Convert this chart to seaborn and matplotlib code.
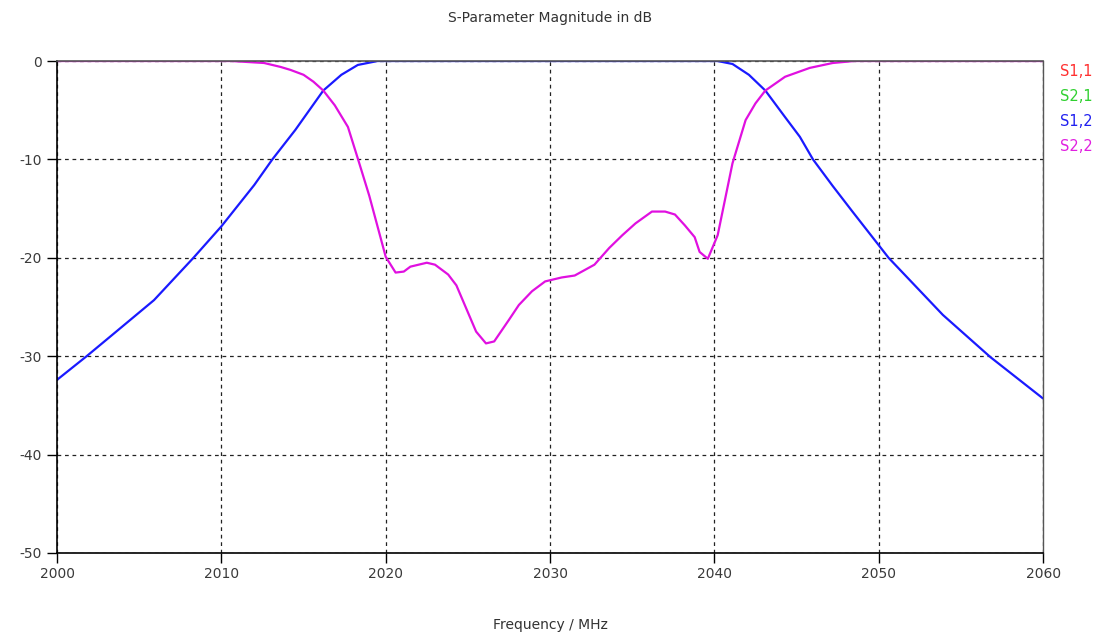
import pandas as pd
import matplotlib.pyplot as plt
import seaborn as sns

# S1,2 (transmission)
freq_s12 = [2000, 2001.8, 2003.6, 2005.9, 2008.3, 2010.0, 2012.0, 2013.1, 2014.5,
            2016.2, 2017.3, 2018.3, 2019.5, 2040.2, 2041.1, 2042.1, 2043.1, 2044.3,
            2045.2, 2046.0, 2047.2, 2048.4, 2050.6, 2053.9, 2056.8, 2060]
s12_db = [-32.4, -30.0, -27.5, -24.3, -20.0, -16.8, -12.6, -10.0, -7.0,
          -3.0, -1.4, -0.4, 0.0, 0.0, -0.3, -1.4, -3.0, -5.7,
          -7.7, -10.0, -12.7, -15.3, -20.0, -25.8, -30.1, -34.3]

# S2,2 (reflection)
freq_s22 = [2000, 2010.6, 2012.6, 2013.6, 2014.2, 2015.0, 2015.6, 2016.2, 2016.9,
            2017.7, 2018.3, 2019.0, 2020.0, 2020.6, 2021.1, 2021.5, 2022.5, 2023.0,
            2023.8, 2024.3, 2025.5, 2026.1, 2026.6, 2027.5, 2028.1, 2028.9, 2029.7,
            2030.7, 2031.5, 2032.7, 2033.6, 2034.4, 2035.2, 2036.2, 2037.0, 2037.6,
            2038.2, 2038.8, 2039.1, 2039.6, 2040.2, 2041.1, 2041.9, 2042.5, 2043.1,
            2044.3, 2045.8, 2047.2, 2048.5, 2060]
s22_db = [0.0, 0.0, -0.2, -0.6, -0.9, -1.4, -2.1, -3.0, -4.5,
          -6.7, -9.9, -13.7, -19.9, -21.5, -21.4, -20.9, -20.5, -20.7,
          -21.7, -22.8, -27.5, -28.7, -28.5, -26.3, -24.8, -23.4, -22.4,
          -22.0, -21.8, -20.7, -19.0, -17.7, -16.5, -15.3, -15.3, -15.6,
          -16.7, -17.9, -19.4, -20.1, -17.7, -10.4, -6.0, -4.3, -3.0,
          -1.6, -0.7, -0.2, 0.0, 0.0]

legend_labels = ['S1,1', 'S2,1', 'S1,2', 'S2,2']
legend_colors = ['#ff3030', '#30d030', '#2020f0', '#e020e0']

x_ticks = [2000, 2010, 2020, 2030, 2040, 2050, 2060]
y_ticks = [0, -10, -20, -30, -40, -50]

sns.set_theme(style='white')
plt.rcParams['font.family'] = ['DejaVu Sans']
plt.rcParams['axes.unicode_minus'] = False

fig = plt.figure(figsize=(11.1, 6.37), dpi=100)
ax = fig.add_axes([0.0514, 0.1319, 0.8883, 0.7723])

sns.lineplot(x=freq_s12, y=s12_db, color='#1a1aff', linewidth=1.6, ax=ax)
sns.lineplot(x=freq_s22, y=s22_db, color='#e010e0', linewidth=1.6, ax=ax)

ax.set_xlim(2000, 2060)
ax.set_ylim(-50, 0)
ax.set_xticks(x_ticks)
ax.set_yticks(y_ticks)
ax.grid(True, color='#222222', linestyle=(0, (3, 3)), linewidth=0.9)
ax.tick_params(axis='both', direction='out', length=7, width=1, color='black',
               labelsize=10, labelcolor='#3a3a3a', left=True, bottom=True)
ax.tick_params(axis='y', pad=4)
ax.tick_params(axis='x', pad=3)

for side in ['left', 'bottom']:
    ax.spines[side].set_color('black')
    ax.spines[side].set_linewidth(1.2)
ax.spines['top'].set_color('#555555')
ax.spines['right'].set_color('#555555')
ax.spines['top'].set_linewidth(1.2)
ax.spines['right'].set_linewidth(1.0)

ax.set_title('S-Parameter Magnitude in dB', fontsize=10, color='#333333', pad=28)
ax.set_xlabel('Frequency / MHz', fontsize=10, color='#333333', labelpad=27)
ax.set_ylabel('')

# legend as coloured labels to the right of the plot
for i, (lab, col) in enumerate(zip(legend_labels, legend_colors)):
    fig.text(0.955, 1 - (72 + i * 24.7) / 637, lab, color=col, fontsize=10.5,
             va='center', ha='left')

fig.savefig('out.png', dpi=100)
